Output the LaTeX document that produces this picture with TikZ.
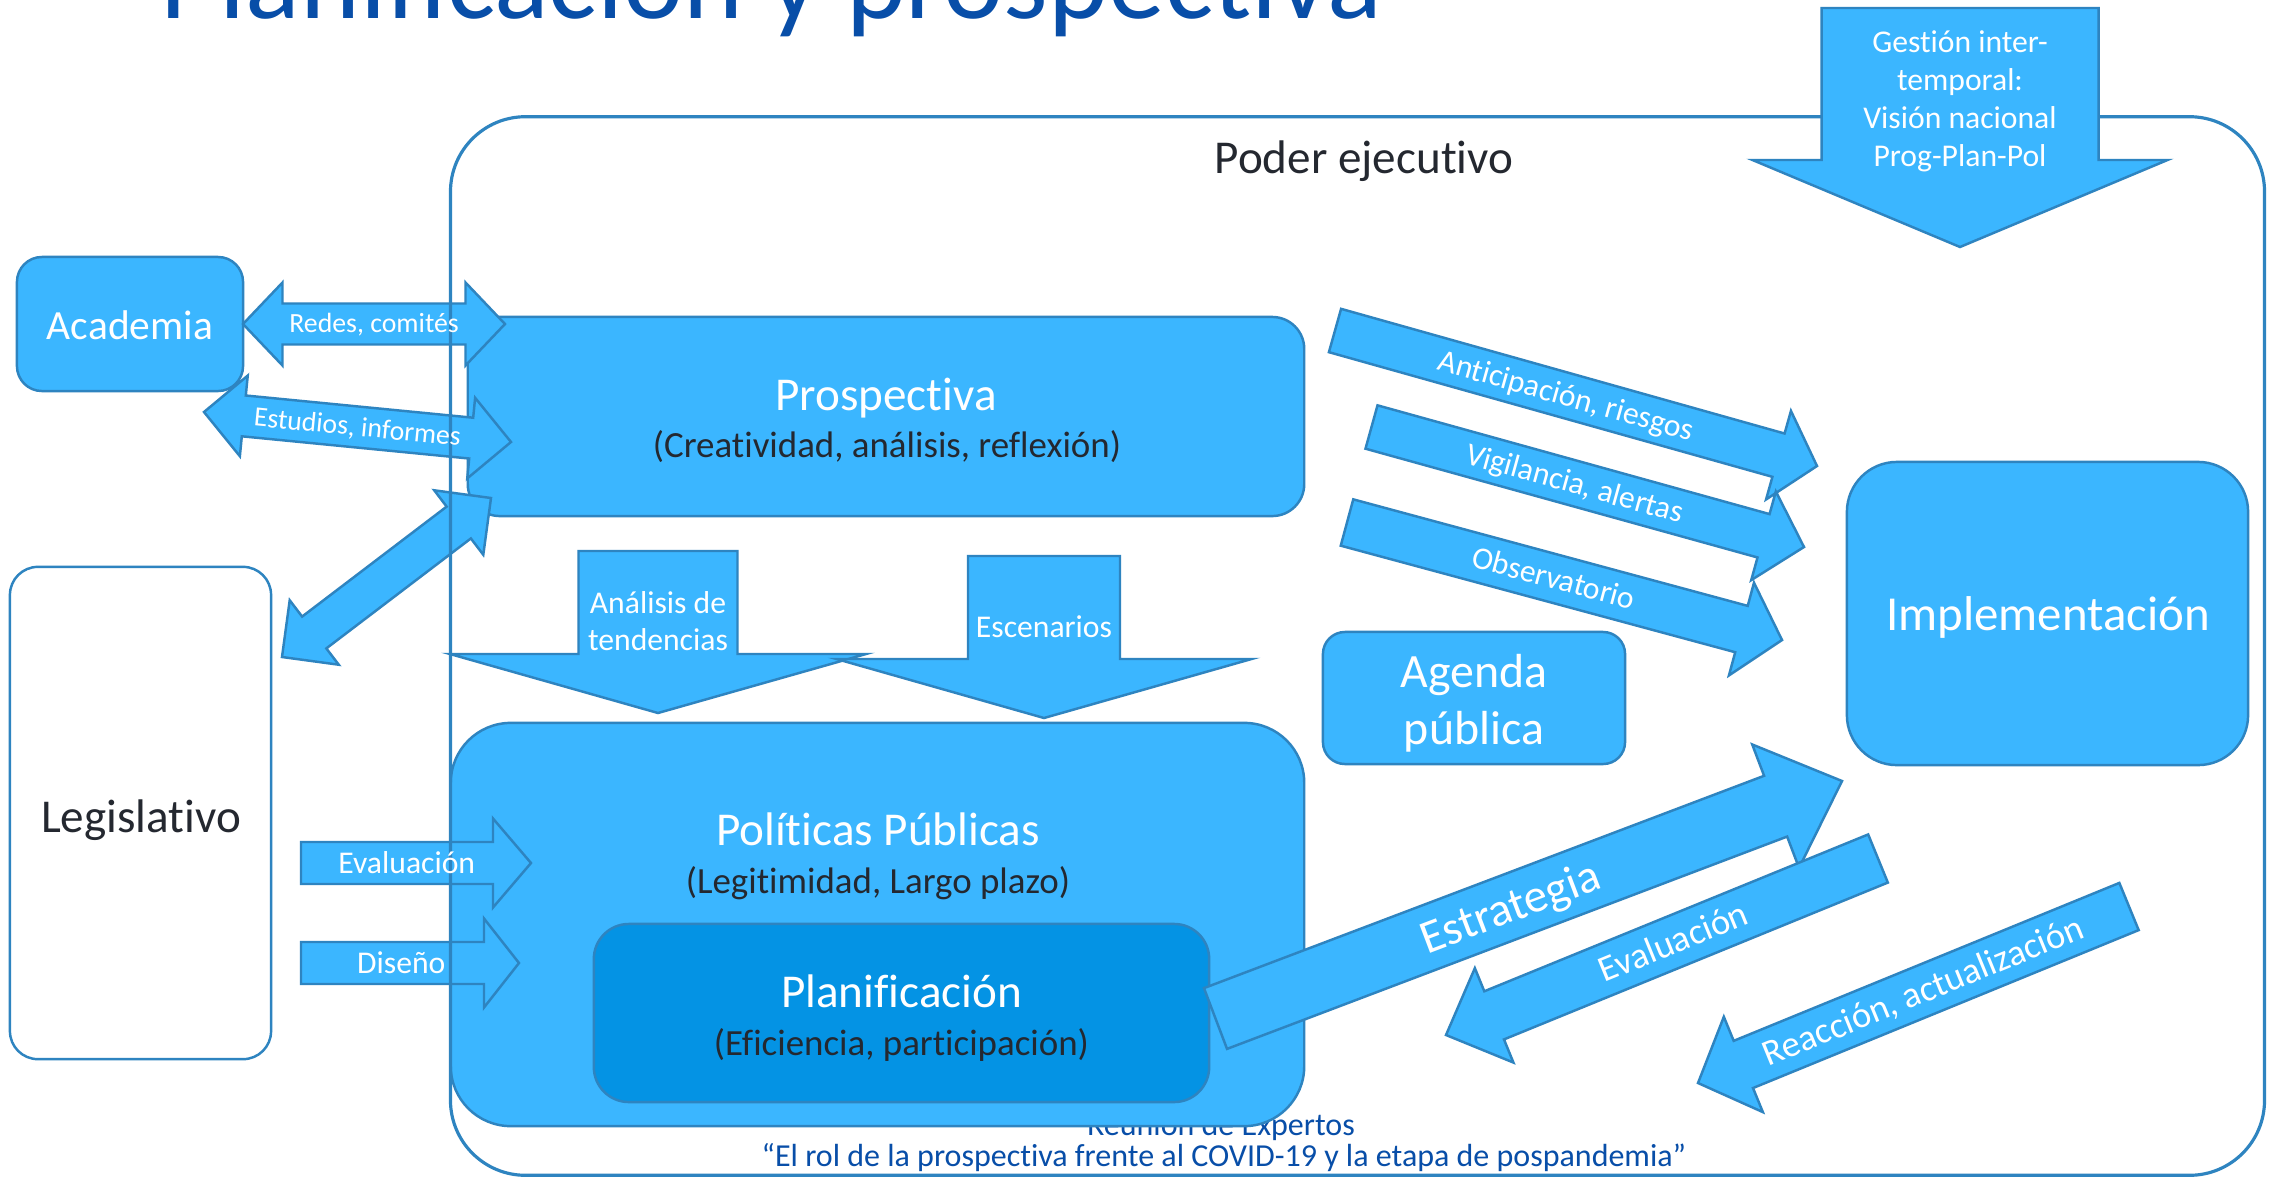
\documentclass[tikz,border=0pt]{standalone}
\usepackage{fontspec}
\setmainfont{Carlito}[Ligatures=NoCommon]
\usetikzlibrary{calc}
\definecolor{lblue}{RGB}{59,182,255}
\definecolor{bord}{RGB}{46,132,192}
\definecolor{dblue}{RGB}{4,147,228}
\definecolor{ttlblue}{RGB}{8,78,168}
\definecolor{txtdark}{RGB}{36,40,48}
\tikzset{
  shp/.style={draw=bord, fill=lblue, line width=0.7pt, line join=miter},
  bx/.style={shp, rectangle, inner sep=0pt, outer sep=0pt},
  txtb/.style={inner sep=0pt, anchor=base},
  wt/.style={txtb, text=white},
  dk/.style={txtb, text=txtdark},
  fbig/.style={font=\fontsize{13.4}{16}\selectfont},
  fsub/.style={font=\fontsize{10.5}{12.6}\selectfont},
  fsml/.style={font=\fontsize{9}{10.8}\selectfont},
  fxs/.style={font=\fontsize{7.9}{9.5}\selectfont},
  fmed/.style={font=\fontsize{10.4}{12.5}\selectfont},
  ffoot/.style={font=\fontsize{9.1}{11}\selectfont},
  lbl/.style={inner sep=0pt, text=white, sloped, text depth=0pt},
}
% single block arrow: tail, tip, shaft half width, head half width, head length (px)
\newcommand{\sglarrow}[5]{%
  \coordinate (abase) at ($(#2)!#5*0.01cm!(#1)$);
  \path[shp] ($(#1)!#3*0.01cm!90:(#2)$) -- ($(abase)!#3*0.01cm!90:(#2)$)
    -- ($(abase)!#4*0.01cm!90:(#2)$) -- (#2)
    -- ($(abase)!#4*0.01cm!-90:(#2)$) -- ($(abase)!#3*0.01cm!-90:(#2)$)
    -- ($(#1)!#3*0.01cm!-90:(#2)$) -- cycle;}
% double block arrow
\newcommand{\dblarrow}[5]{%
  \coordinate (abaseA) at ($(#1)!#5*0.01cm!(#2)$);
  \coordinate (abaseB) at ($(#2)!#5*0.01cm!(#1)$);
  \path[shp] (#1) -- ($(abaseA)!#4*0.01cm!90:(#2)$) -- ($(abaseA)!#3*0.01cm!90:(#2)$)
    -- ($(abaseB)!#3*0.01cm!90:(#2)$) -- ($(abaseB)!#4*0.01cm!90:(#2)$) -- (#2)
    -- ($(abaseB)!#4*0.01cm!-90:(#2)$) -- ($(abaseB)!#3*0.01cm!-90:(#2)$)
    -- ($(abaseA)!#3*0.01cm!-90:(#2)$) -- ($(abaseA)!#4*0.01cm!-90:(#2)$) -- cycle;}
\begin{document}
\begin{tikzpicture}[x=0.01cm,y=-0.01cm]
\useasboundingbox (0,0) rectangle (2269,1178);
\clip (0,0) rectangle (2269,1178);
\fill[white] (0,0) rectangle (2269,1178);

% footer and title
\node[txtb, text=ttlblue, ffoot] (foot1) at (1221,1135) {Reunión de Expertos};
\node[txtb, text=ttlblue, ffoot] (foot2) at (1224,1166) {“El rol de la prospectiva frente al COVID-19 y la etapa de pospandemia”};
\node[anchor=base west, inner sep=0pt, text=ttlblue, font=\fontsize{32.4}{38}\selectfont] (title) at (160,18) {Planificación y prospectiva};

% main boxes
\node[bx, rounded corners=0.32cm, minimum width=8.36cm, minimum height=1.99cm] (prosp) at (886,416.5) {};
\node[wt, fbig] (prospT) at (886,410) {Prospectiva};
\node[dk, fsub] (prospS) at (887,457) {(Creatividad, análisis, reflexión)};

\node[bx, rounded corners=0.6cm, minimum width=8.53cm, minimum height=4.03cm] (polit) at (877.5,924.5) {};
\node[wt, fbig] (politT) at (878,845) {Políticas Públicas};
\node[dk, fsub] (politS) at (878,893) {(Legitimidad, Largo plazo)};

\node[bx, fill=dblue, rounded corners=0.35cm, minimum width=6.15cm, minimum height=1.78cm] (planif) at (901.5,1013) {};
\node[wt, fbig] (planifT) at (901.5,1007) {Planificación};
\node[dk, fsub] (planifS) at (901.5,1055) {(Eficiencia, participación)};

\node[bx, rounded corners=0.25cm, minimum width=2.26cm, minimum height=1.34cm] (acad) at (130,324) {};
\node[wt, font=\fontsize{11.8}{14}\selectfont] (acadT) at (130,339) {Academia};

\node[bx, fill=white, rounded corners=0.28cm, minimum width=2.61cm, minimum height=4.92cm] (legis) at (140.5,813) {};
\node[dk, fbig] (legisT) at (141,832) {Legislativo};

% left arrows
\coordinate (redT) at (243,324); \coordinate (redH) at (505,324);
\dblarrow{redT}{redH}{20.5}{41.5}{39.5}
\coordinate (estT) at (204,412); \coordinate (estH) at (511,442);
\dblarrow{estT}{estH}{20.5}{40.5}{40}
\coordinate (ldT) at (282,657); \coordinate (ldH) at (491,498);
\dblarrow{ldT}{ldH}{20}{40.5}{40.5}
\coordinate (evlT) at (301,863); \coordinate (evlH) at (531,863);
\sglarrow{evlT}{evlH}{21}{44.5}{38}
\coordinate (disT) at (301,963); \coordinate (disH) at (519,963);
\sglarrow{disT}{disH}{21}{44.5}{35}

% executive frame
\node[draw=bord, line width=0.9pt, rounded corners=0.75cm, minimum width=18.13cm, minimum height=10.58cm, inner sep=0pt] (ejec) at (1357.5,646) {};
\node[dk, fbig] (ejecT) at (1364,173) {Poder ejecutivo};

\path (redT) -- (redH) node[lbl, fxs, text height=5.1pt, pos=0.5] (redL) {Redes, comités};
\path (estT) -- (estH) node[lbl, fxs, text height=5.1pt, pos=0.5] (estL) {Estudios, informes};
\path (evlT) -- (evlH) node[lbl, fsml, text height=5.8pt, pos=0.46] (evlL) {Evaluación};
\path (disT) -- (disH) node[lbl, fsml, text height=5.8pt, pos=0.46] (disL) {Diseño};

% downward arrows
\coordinate (gesT) at (1960,8); \coordinate (gesH) at (1960,247);
\sglarrow{gesT}{gesH}{138.5}{207.5}{87}
\node[wt, fsml] (ges1) at (1960,52) {Gestión inter-};
\node[wt, fsml] (ges2) at (1960,90) {temporal:};
\node[wt, fsml] (ges3) at (1960,128) {Visión nacional};
\node[wt, fsml] (ges4) at (1960,166) {Prog-Plan-Pol};

\coordinate (anaT) at (658,551); \coordinate (anaH) at (658,713);
\sglarrow{anaT}{anaH}{79.5}{208}{59}
\coordinate (escT) at (1044,556); \coordinate (escH) at (1044,718);
\sglarrow{escT}{escH}{76}{207.5}{59}
\node[wt, fsml] (ana1) at (658,613) {Análisis de};
\node[wt, fsml] (ana2) at (658,650) {tendencias};
\node[wt, fsml] (esc1) at (1044,637) {Escenarios};

% right boxes
\node[bx, rounded corners=0.22cm, minimum width=3.02cm, minimum height=1.32cm] (agenda) at (1474,698) {};
\node[wt, font=\fontsize{13.6}{16}\selectfont] (agenda1) at (1474,687) {Agenda};
\node[wt, font=\fontsize{13.6}{16}\selectfont] (agenda2) at (1474,744) {pública};

\node[bx, rounded corners=0.5cm, minimum width=4.01cm, minimum height=3.03cm] (implem) at (2047.5,613.5) {};
\node[wt, font=\fontsize{13.9}{16}\selectfont] (implemT) at (2048,630) {Implementación};

% arrows towards implementation
\coordinate (antT) at (1335,330.5); \coordinate (antH) at (1817,466);
\sglarrow{antT}{antH}{22.5}{46}{40}
\coordinate (vigT) at (1371.5,427); \coordinate (vigH) at (1804,547);
\sglarrow{vigT}{vigH}{22.5}{46}{42}
\coordinate (obsT) at (1347,522.5); \coordinate (obsH) at (1782,640);
\sglarrow{obsT}{obsH}{24}{48}{42}
\path (antT) -- (antH) node[lbl, fsml, text height=5.8pt, pos=0.48] (antL) {Anticipación, riesgos};
\path (vigT) -- (vigH) node[lbl, fsml, text height=5.8pt, pos=0.47] (vigL) {Vigilancia, alertas};
\path (obsT) -- (obsH) node[lbl, fsml, text height=5.8pt, pos=0.475] (obsL) {Observatorio};

% bottom arrows
\coordinate (strT) at (1215.5,1018.5); \coordinate (strH) at (1842,781);
\sglarrow{strT}{strH}{32.5}{66}{71}
\coordinate (evrT) at (1878,858.5); \coordinate (evrH) at (1446,1035);
\sglarrow{evrT}{evrH}{26}{51}{52}
\coordinate (reaT) at (2129,906.5); \coordinate (reaH) at (1698,1083);
\sglarrow{reaT}{reaH}{25.5}{51.5}{49}
\path (strT) -- (strH) node[lbl, fbig, text height=8.6pt, pos=0.47] (strL) {Estrategia};
\path (evrT) -- (evrH) node[lbl, fmed, text height=6.7pt, pos=0.474] (evrL) {Evaluación};
\path (reaT) -- (reaH) node[lbl, fmed, text height=6.7pt, pos=0.478] (reaL) {Reacción, actualización};
\end{tikzpicture}
\end{document}
